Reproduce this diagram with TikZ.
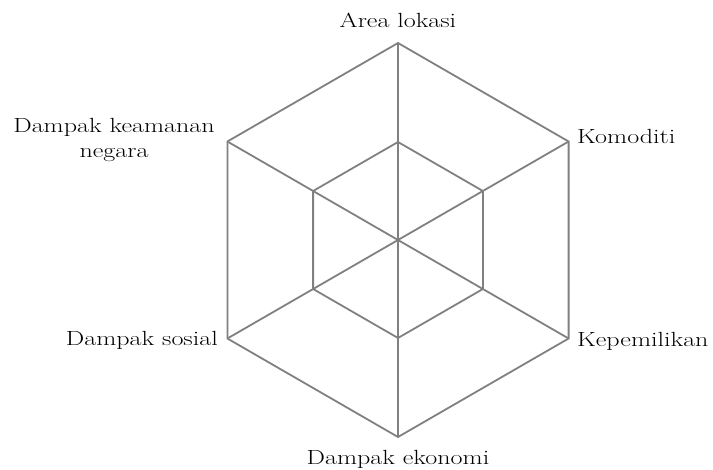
\documentclass[tikz,border=0pt]{standalone}
\usepackage{fontspec}
\setmainfont{Latin Modern Roman}[FakeStretch=1.27]
\begin{document}
\begin{tikzpicture}[x=1pt,y=-1pt,
  web/.style={draw=black!50, line width=1.8pt, line join=miter},
  lbl/.style={font=\fontsize{20.5}{25}\selectfont, inner sep=0pt, align=center}]
\useasboundingbox (0,0) rectangle (713,470);
\coordinate (c) at (398,240);
% outer vertices
\coordinate (o1) at (398,43);
\coordinate (o2) at (568.6,141.5);
\coordinate (o3) at (568.6,338.5);
\coordinate (o4) at (398,437);
\coordinate (o5) at (227.4,338.5);
\coordinate (o6) at (227.4,141.5);
% inner vertices
\coordinate (i1) at (398,142);
\coordinate (i2) at (482.9,191);
\coordinate (i3) at (482.9,289);
\coordinate (i4) at (398,338);
\coordinate (i5) at (313.1,289);
\coordinate (i6) at (313.1,191);
\draw[web] (o1) -- (o2) -- (o3) -- (o4) -- (o5) -- (o6) -- cycle;
\draw[web] (i1) -- (i2) -- (i3) -- (i4) -- (i5) -- (i6) -- cycle;
\foreach \i in {1,...,6}{ \draw[web] (c) -- (o\i); }
% labels
\node[lbl, anchor=base] (l1) at (398,28) {Area lokasi};
\node[lbl, anchor=base west] (l2) at (577,144) {Komoditi};
\node[lbl, anchor=base west] (l3) at (577,347) {Kepemilikan};
\node[lbl, anchor=base] (l4) at (398,465) {Dampak ekonomi};
\node[lbl, anchor=base east] (l5) at (218,346) {Dampak sosial};
\node[lbl] (l6) at (114,140) {Dampak keamanan\\negara};
\end{tikzpicture}
\end{document}
